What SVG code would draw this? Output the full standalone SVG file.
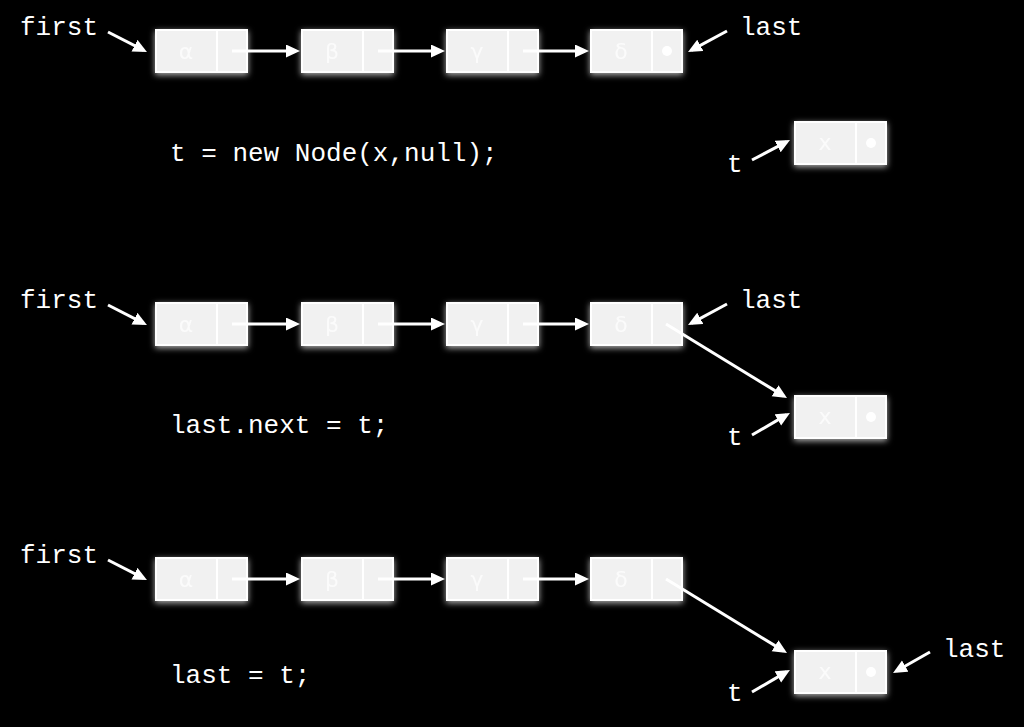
<svg xmlns="http://www.w3.org/2000/svg" width="1024" height="727" viewBox="0 0 1024 727">
<defs>
<style>
.box{fill:#f1f1f1;stroke:#ffffff;stroke-width:2}
.div{stroke:#ffffff;stroke-width:2}
.in{font-family:"DejaVu Sans","Liberation Sans",sans-serif;font-size:22px;fill:#fbfbfb;text-anchor:middle}
.dot{fill:#ffffff}
.lbl{font-family:"Liberation Mono","DejaVu Sans Mono",monospace;font-size:26px;fill:#ffffff}
.arr{stroke:#ffffff;stroke-width:3;fill:none;marker-end:url(#ah)}
</style>
<marker id="ah" markerUnits="userSpaceOnUse" markerWidth="16" markerHeight="14" refX="10" refY="6.5" orient="auto">
<path d="M0,0 L14,6.5 L0,13 z" fill="#ffffff"/>
</marker>
<filter id="glow" x="-20%" y="-40%" width="140%" height="190%">
<feGaussianBlur in="SourceAlpha" stdDeviation="3" result="b"/>
<feOffset in="b" dy="2" result="o"/>
<feFlood flood-color="#ffffff" flood-opacity="0.7"/>
<feComposite in2="o" operator="in" result="g"/>
<feMerge><feMergeNode in="g"/><feMergeNode in="SourceGraphic"/></feMerge>
</filter>
<g id="nodeShape">
<rect class="box" x="0" y="0" width="91" height="42"/>
<line class="div" x1="61" y1="0" x2="61" y2="42"/>
</g>
</defs>
<rect width="1024" height="727" fill="#000000"/>

<!-- Row 1 -->
<g id="r1-alpha" filter="url(#glow)" transform="translate(156,30)"><use href="#nodeShape"/><text class="in" x="30" y="29">α</text></g>
<g id="r1-beta" filter="url(#glow)" transform="translate(302,30)"><use href="#nodeShape"/><text class="in" x="30" y="29">β</text></g>
<g id="r1-gamma" filter="url(#glow)" transform="translate(447,30)"><use href="#nodeShape"/><text class="in" x="30" y="29">γ</text></g>
<g id="r1-delta" filter="url(#glow)" transform="translate(591,30)"><use href="#nodeShape"/><text class="in" x="30" y="29">δ</text><circle class="dot" cx="76" cy="21" r="5"/></g>
<g id="r1-x" filter="url(#glow)" transform="translate(795,122)"><use href="#nodeShape"/><text class="in" x="30" y="28">x</text><circle class="dot" cx="76" cy="21" r="5"/></g>

<!-- Row 2 -->
<g id="r2-alpha" filter="url(#glow)" transform="translate(156,303)"><use href="#nodeShape"/><text class="in" x="30" y="29">α</text></g>
<g id="r2-beta" filter="url(#glow)" transform="translate(302,303)"><use href="#nodeShape"/><text class="in" x="30" y="29">β</text></g>
<g id="r2-gamma" filter="url(#glow)" transform="translate(447,303)"><use href="#nodeShape"/><text class="in" x="30" y="29">γ</text></g>
<g id="r2-delta" filter="url(#glow)" transform="translate(591,303)"><use href="#nodeShape"/><text class="in" x="30" y="29">δ</text></g>
<g id="r2-x" filter="url(#glow)" transform="translate(795,396)"><use href="#nodeShape"/><text class="in" x="30" y="28">x</text><circle class="dot" cx="76" cy="21" r="5"/></g>

<!-- Row 3 -->
<g id="r3-alpha" filter="url(#glow)" transform="translate(156,558)"><use href="#nodeShape"/><text class="in" x="30" y="29">α</text></g>
<g id="r3-beta" filter="url(#glow)" transform="translate(302,558)"><use href="#nodeShape"/><text class="in" x="30" y="29">β</text></g>
<g id="r3-gamma" filter="url(#glow)" transform="translate(447,558)"><use href="#nodeShape"/><text class="in" x="30" y="29">γ</text></g>
<g id="r3-delta" filter="url(#glow)" transform="translate(591,558)"><use href="#nodeShape"/><text class="in" x="30" y="29">δ</text></g>
<g id="r3-x" filter="url(#glow)" transform="translate(795,651)"><use href="#nodeShape"/><text class="in" x="30" y="28">x</text><circle class="dot" cx="76" cy="21" r="5"/></g>

<!-- Labels -->
<g id="labels">
<text class="lbl" x="20" y="35">first</text>
<text class="lbl" x="740" y="35">last</text>
<text class="lbl" x="727" y="172">t</text>
<text class="lbl" x="170" y="161">t = new Node(x,null);</text>

<text class="lbl" x="20" y="308">first</text>
<text class="lbl" x="740" y="308">last</text>
<text class="lbl" x="727" y="445">t</text>
<text class="lbl" x="170" y="433">last.next = t;</text>

<text class="lbl" x="20" y="563">first</text>
<text class="lbl" x="943" y="657">last</text>
<text class="lbl" x="727" y="701">t</text>
<text class="lbl" x="170" y="683">last = t;</text>
</g>

<!-- Connectors -->
<g id="connectors">
<!-- row 1 -->
<line class="arr" x1="108" y1="32" x2="143.4" y2="50.2"/>
<line class="arr" x1="232" y1="51" x2="296" y2="51"/>
<line class="arr" x1="378" y1="51" x2="441" y2="51"/>
<line class="arr" x1="523" y1="51" x2="585" y2="51"/>
<line class="arr" x1="727" y1="31" x2="691.5" y2="50.1"/>
<line class="arr" x1="752" y1="160" x2="786.5" y2="141.9"/>
<!-- row 2 -->
<line class="arr" x1="108" y1="305" x2="143.4" y2="323.2"/>
<line class="arr" x1="232" y1="324" x2="296" y2="324"/>
<line class="arr" x1="378" y1="324" x2="441" y2="324"/>
<line class="arr" x1="523" y1="324" x2="585" y2="324"/>
<line class="arr" x1="727" y1="304" x2="691.5" y2="323.1"/>
<line class="arr" x1="666" y1="324" x2="783.6" y2="395.9"/>
<line class="arr" x1="752" y1="435" x2="786.5" y2="414.9"/>
<!-- row 3 -->
<line class="arr" x1="108" y1="560" x2="143.4" y2="578.2"/>
<line class="arr" x1="232" y1="579" x2="296" y2="579"/>
<line class="arr" x1="378" y1="579" x2="441" y2="579"/>
<line class="arr" x1="523" y1="579" x2="585" y2="579"/>
<line class="arr" x1="666" y1="579" x2="783.6" y2="650.9"/>
<line class="arr" x1="752" y1="692" x2="786.5" y2="671.9"/>
<line class="arr" x1="930" y1="652" x2="896.5" y2="671"/>
</g>
</svg>
